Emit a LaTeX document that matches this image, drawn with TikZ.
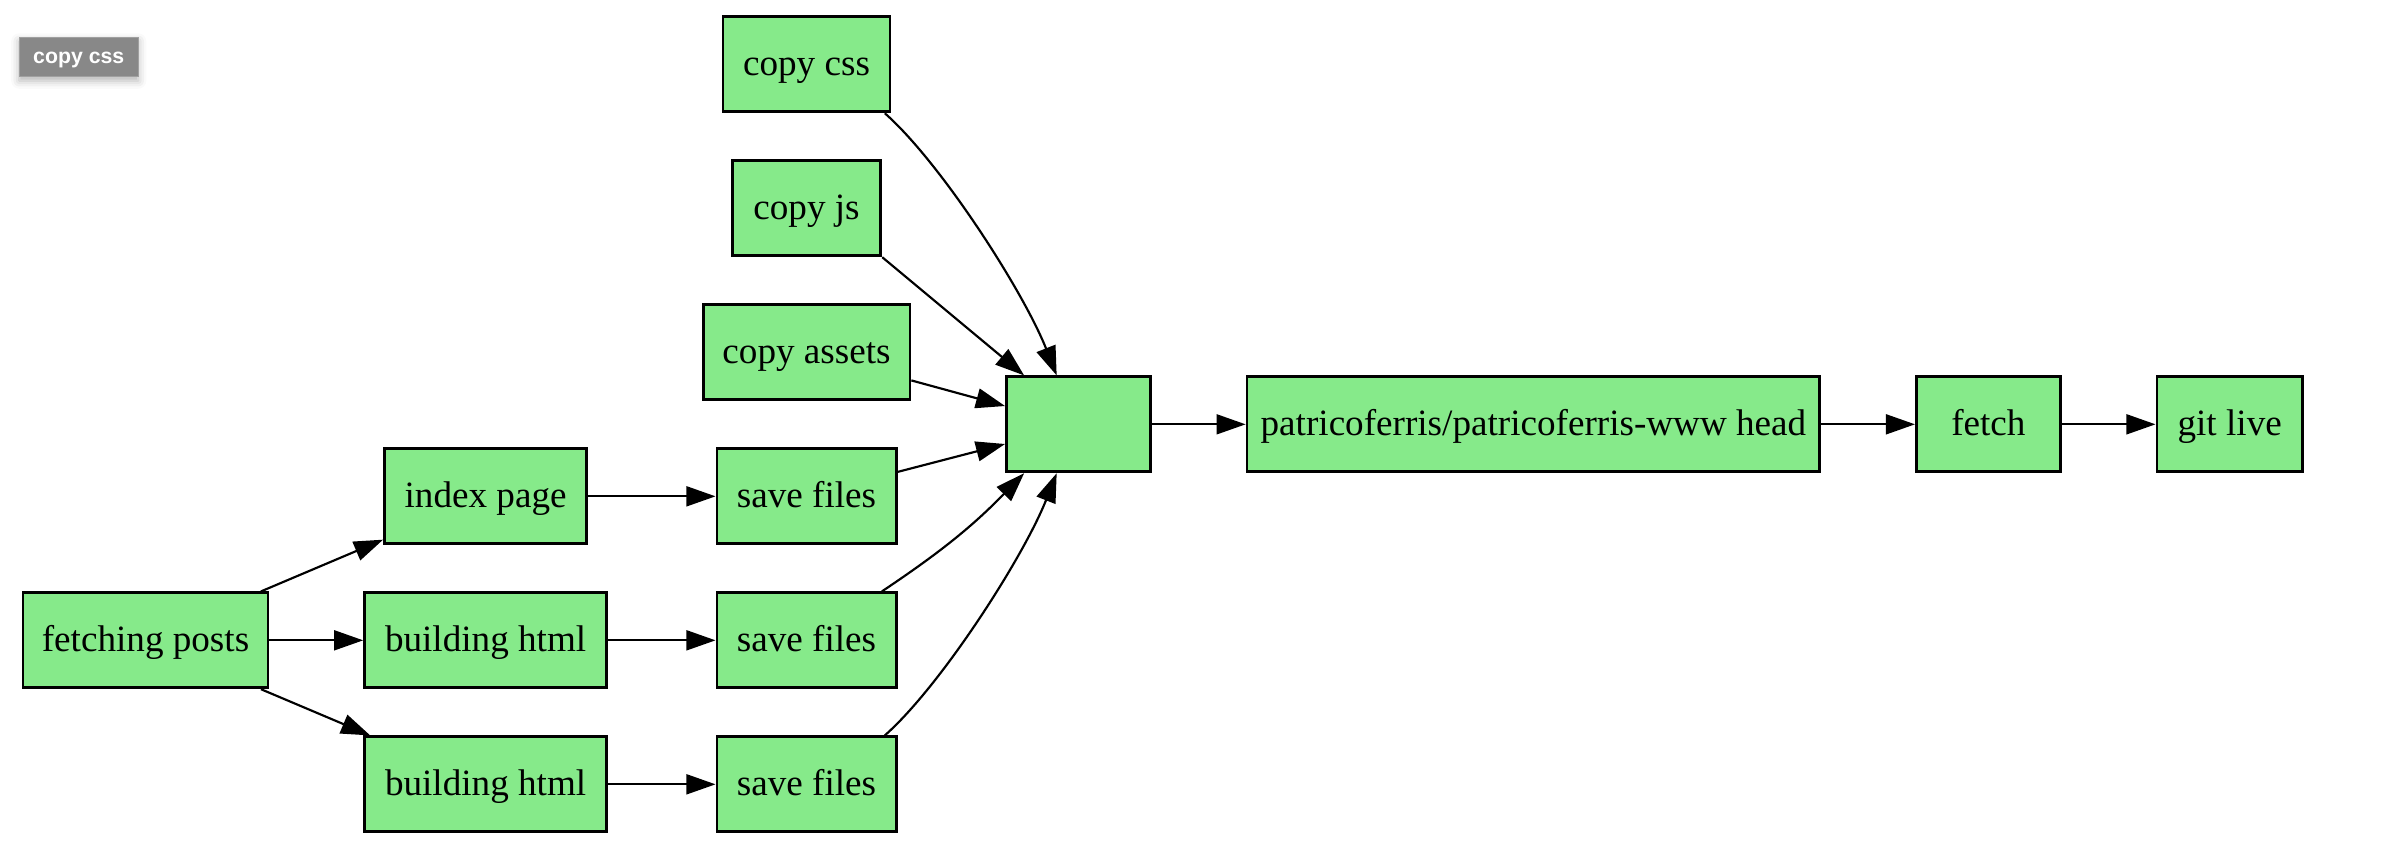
\documentclass[tikz,border=0pt]{standalone}
\usepackage{fontspec}
\setmainfont{Liberation Serif}
\newfontfamily\btnfont{Liberation Sans}
\usetikzlibrary{arrows.meta,shadows.blur}
\definecolor{nodegreen}{RGB}{134,234,138}
\definecolor{btngray}{RGB}{136,136,136}
\definecolor{btnedge}{RGB}{160,160,160}
\begin{document}
\begin{tikzpicture}[x=0.02cm,y=-0.02cm,
  box/.style={draw=black, fill=nodegreen, line width=1.05pt, inner sep=0pt,
    minimum height=1.24cm, text height=11pt, text depth=3pt,
    font=\fontsize{13.8}{16}\selectfont},
  edge/.style={-{Triangle[length=0.38cm,width=0.26cm]}, line width=0.8pt},
  btn/.style={fill=btngray, draw=btnedge, line width=0.4pt, inner sep=0pt,
    minimum width=1.554cm, minimum height=0.514cm, text=white,
    text height=6pt, text depth=1.3pt,
    font=\btnfont\bfseries\fontsize{7.9}{9}\selectfont,
    blur shadow={shadow xshift=0pt, shadow yshift=-1.5pt, shadow blur radius=3pt, shadow opacity=30}}]
\useasboundingbox (0,0) rectangle (1568,561.2);

\node[btn] (btn) at (51.4,37.2) {copy css};

\node[box, minimum width=2.18cm] (css) at (526.5,42) {copy css};
\node[box, minimum width=1.94cm] (js) at (526.5,136) {copy js};
\node[box, minimum width=2.70cm] (assets) at (526.5,230) {copy assets};
\node[box, minimum width=1.88cm] (hub) at (704,277) {};
\node[box, minimum width=7.48cm] (head) at (1001,277) {patricoferris/patricoferris-www head};
\node[box, minimum width=1.88cm] (fetch) at (1298,277) {fetch};
\node[box, minimum width=1.90cm] (live) at (1455.5,277) {git live};
\node[box, minimum width=2.64cm] (index) at (317,324) {index page};
\node[box, minimum width=2.34cm] (sf1) at (526.5,324) {save files};
\node[box, minimum width=3.20cm] (posts) at (95,418) {fetching posts};
\node[box, minimum width=3.16cm] (bh1) at (317,418) {building html};
\node[box, minimum width=2.34cm] (sf2) at (526.5,418) {save files};
\node[box, minimum width=3.16cm] (bh2) at (317,512) {building html};
\node[box, minimum width=2.34cm] (sf3) at (526.5,512) {save files};

\draw[edge] (posts) -- (index);
\draw[edge] (posts) -- (bh1);
\draw[edge] (posts) -- (bh2);
\draw[edge] (index) -- (sf1);
\draw[edge] (bh1) -- (sf2);
\draw[edge] (bh2) -- (sf3);
\draw[edge] (css.-32) .. controls (614,106) and (668,190) .. (hub.114);
\draw[edge] (js.south east) -- (hub.138);
\draw[edge] (assets.-15.5) -- (hub.166);
\draw[edge] (sf1.15) -- (hub.-165);
\draw[edge] (sf2.33.6) to[bend right=6] (hub.-138);
\draw[edge] (sf3.32) .. controls (614,448) and (668,364) .. (hub.-114);
\draw[edge] (hub) -- (head);
\draw[edge] (head) -- (fetch);
\draw[edge] (fetch) -- (live);
\end{tikzpicture}
\end{document}
